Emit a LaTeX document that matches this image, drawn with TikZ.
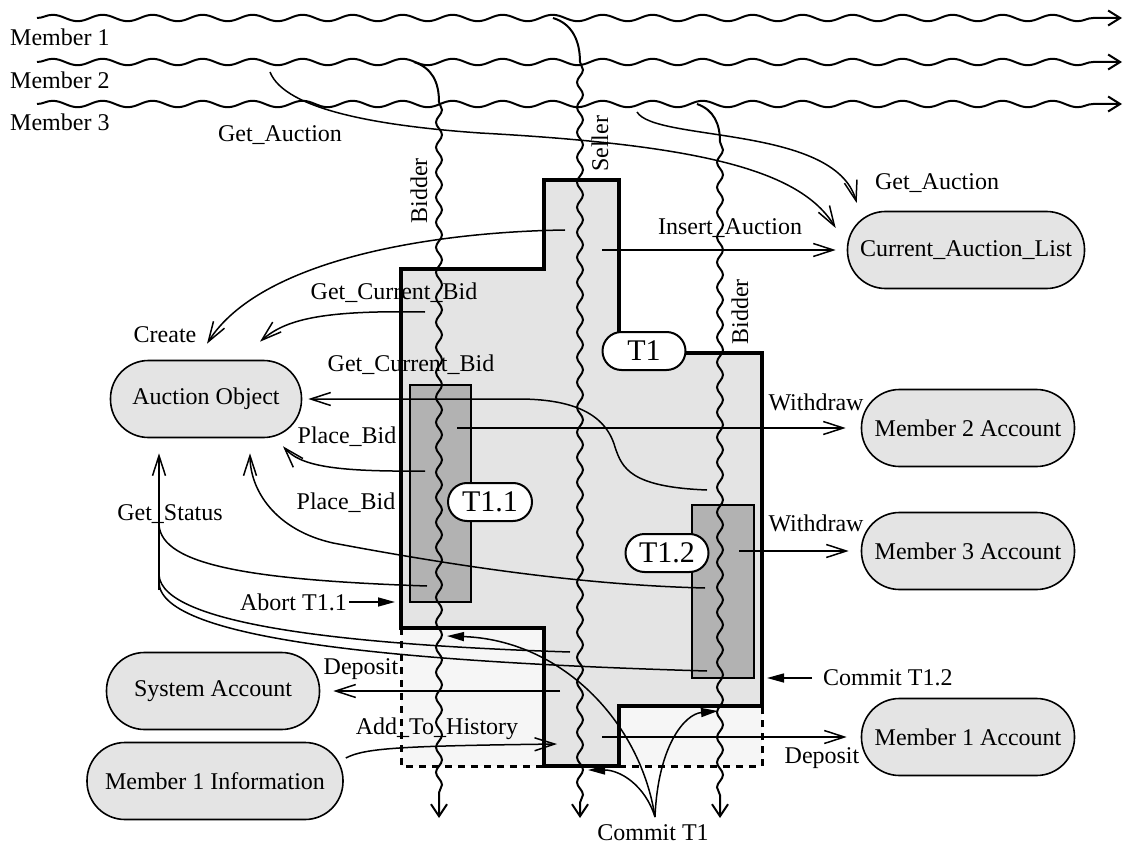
\documentclass[tikz,border=0pt]{standalone}
\usepackage{fontspec}
\setmainfont{Liberation Serif}
\usetikzlibrary{arrows.meta, decorations.pathmorphing, calc}

\definecolor{tgray}{gray}{0.895}
\definecolor{sgray}{gray}{0.70}
\definecolor{lgray}{gray}{0.965}

\begin{document}
\begin{tikzpicture}[
    x=1pt, y=-1pt,
    font=\fontsize{24}{28}\selectfont,
    obj/.style={rectangle, draw, line width=1.6pt, fill=tgray, rounded corners=38pt, minimum height=77pt, inner sep=0pt},
    tag/.style={rectangle, draw, line width=2pt, fill=white, rounded corners=19pt, minimum height=38pt, minimum width=84pt, inner sep=0pt, font=\fontsize{30}{34}\selectfont},
    lbl/.style={inner sep=2pt},
    line/.style={draw, line width=1.5pt, -{Straight Barb[length=20pt,width=13pt]}},
    fline/.style={draw, line width=1.5pt, -{Triangle[length=17pt,width=9pt]}},
    wire/.style={draw, line width=1.5pt},
    branch/.style={draw, line width=2pt},
    hthread/.style={draw, line width=2pt, decorate, decoration={snake, segment length=50pt, amplitude=3.2pt, post length=10pt}, -{Straight Barb[length=12pt,width=15pt]}},
    vthread/.style={draw, line width=2pt, decorate, decoration={snake, segment length=25pt, amplitude=3pt, post length=14pt}, -{Straight Barb[length=12pt,width=16pt]}},
    edge/.style={draw, line width=3.2pt},
    dashedge/.style={draw, line width=3pt, dash pattern=on 7pt off 6pt}
]
\useasboundingbox (0,0) rectangle (1130,845);

\fill[lgray] (401,628) rectangle (544,766);
\fill[lgray] (619,706) rectangle (762,766);
\path[edge, fill=tgray] (544,180) -- (619,180) -- (619,353) -- (762,353) -- (762,706) -- (619,706) -- (619,766) -- (544,766) -- (544,628) -- (401,628) -- (401,269) -- (544,269) -- cycle;
\path[dashedge] (401,628) -- (401,766) -- (544,766);
\path[dashedge] (619,766) -- (762,766) -- (762,706);
\draw[line width=1.8pt, fill=sgray] (410,385) rectangle (471,602);
\draw[line width=1.8pt, fill=sgray] (692,505) rectangle (754,678);

\coordinate (m1s) at (37,18);
\coordinate (m1e) at (1122,18);
\coordinate (m2s) at (37,62);
\coordinate (m2e) at (1122,62);
\coordinate (m3s) at (37,104);
\coordinate (m3e) at (1122,104);
\path[hthread] (m1s) -- (m1e);
\path[hthread] (m2s) -- (m2e);
\path[hthread] (m3s) -- (m3e);

\node[lbl, anchor=west] (m1) at (8,37) {Member 1};
\node[lbl, anchor=west] (m2) at (8,80) {Member 2};
\node[lbl, anchor=west] (m3) at (8,122) {Member 3};

\coordinate (b1a) at (414,62);
\coordinate (b1b) at (439,102);
\coordinate (b1e) at (439,818);
\coordinate (sla) at (553,18);
\coordinate (slb) at (580,62);
\coordinate (sle) at (580,818);
\coordinate (b2a) at (697,104);
\coordinate (b2b) at (720,142);
\coordinate (b2e) at (720,818);
\path[branch] (b1a) .. controls (432,68) and (439,82) .. (b1b);
\path[vthread] (b1b) -- (b1e);
\path[branch] (sla) .. controls (573,24) and (580,42) .. (slb);
\path[vthread] (slb) -- (sle);
\path[branch] (b2a) .. controls (714,110) and (720,124) .. (b2b);
\path[vthread] (b2b) -- (b2e);

\node[lbl, rotate=90] (bidder1) at (419,191) {Bidder};
\node[lbl, rotate=90] (seller) at (600,144) {Seller};
\node[lbl, rotate=90] (bidder2) at (740,312) {Bidder};

\node[obj, minimum width=237pt] (list) at (966,250) {Current\_Auction\_List};
\node[obj, minimum width=191pt] (auction) at (206,399) {Auction Object};
\node[obj, minimum width=213pt] (acc2) at (968,428) {Member 2 Account};
\node[obj, minimum width=213pt] (acc3) at (968,551) {Member 3 Account};
\node[obj, minimum width=213pt] (acc1) at (968,737) {Member 1 Account};
\node[obj, minimum width=213pt] (sysacc) at (213,691) {System Account};
\node[obj, minimum width=256pt] (info1) at (215,781) {Member 1 Information};

\coordinate (ga1) at (270,72);
\coordinate (ga2) at (637,112);
\coordinate (ins) at (602,250);
\coordinate (cr) at (565,230);
\coordinate (gcb1) at (425,312);
\coordinate (gcb2) at (707,490);
\coordinate (wd2) at (457,428);
\coordinate (wd3) at (739,551);
\coordinate (pb1) at (425,471);
\coordinate (pb2) at (705,588);
\coordinate (gs1) at (427,586);
\coordinate (gs2) at (570,652);
\coordinate (gs3) at (707,671);
\coordinate (gsj) at (159,590);
\coordinate (dep1) at (560,691);
\coordinate (dep2) at (602,737);
\coordinate (hist) at (557,744);
\coordinate (cmt) at (655,817);
\coordinate (cs) at (588,770);
\coordinate (cb1) at (447,636);
\coordinate (cb2) at (718,711);
\coordinate (ab) at (395,602);
\coordinate (cm12) at (767,678);

\path[line] (ga1) .. controls (285,110) and (380,126) .. (480,133) .. controls (700,145) and (800,170) .. ([shift={(-11,-22)}]list.west);
\path[line] (ga2) .. controls (655,142) and (835,125) .. ([shift={(10,-47)}]list.west);
\path[line, shorten >=11pt] (ins) -- (list.west);
\path[line] (cr) .. controls (430,232) and (260,260) .. ([shift={(1,-16)}]auction.north);
\path[line] (gcb1) .. controls (320,310) and (285,320) .. ([shift={(54,-18)}]auction.north);
\path[line, shorten >=6pt] (gcb2) .. controls (630,487) and (622,468) .. (615,447) .. controls (605,412) and (570,399) .. (518,399) -- (auction.east);
\path[line, shorten >=15pt] (wd2) -- (acc2.west);
\path[line, shorten >=12pt] (wd3) -- (acc3.west);
\path[line] (pb1) .. controls (330,472) and (300,465) .. ([shift={(77,8)}]auction.south);
\path[line] (pb2) .. controls (580,585) and (450,565) .. (333,543) .. controls (275,530) and (250,490) .. ([shift={(44,15)}]auction.south);
\path[wire] (gs1) .. controls (250,580) and (162,565) .. (159,525);
\path[wire] (gs2) .. controls (350,645) and (162,625) .. (159,575);
\path[wire] (gs3) .. controls (400,662) and (162,640) .. (159,583);
\path[line, shorten >=15pt] (gsj) -- (gsj |- auction.south);
\path[line, shorten >=13pt] (dep1) -- (sysacc.east);
\path[line] ([shift={(2,-23)}]info1.east) .. controls (365,748) and (400,746) .. (hist);
\path[line, shorten >=14pt] (dep2) -- (acc1.west);
\path[fline] (cmt) .. controls (645,785) and (620,770) .. (cs);
\path[fline] (cmt) .. controls (658,745) and (685,714) .. (cb2);
\path[fline] (cmt) .. controls (640,720) and (560,640) .. (cb1);

\node[lbl] (ga1l) at (280,135) {Get\_Auction};
\node[lbl] (ga2l) at (937,183) {Get\_Auction};
\node[lbl] (insl) at (730,228) {Insert\_Auction};
\node[lbl] (crl) at (165,335) {Create};
\node[lbl] (gcb1l) at (394,293) {Get\_Current\_Bid};
\node[lbl] (gcb2l) at (411,365) {Get\_Current\_Bid};
\node[lbl] (wd2l) at (816,402) {Withdraw};
\node[lbl] (wd3l) at (816,523) {Withdraw};
\node[lbl] (pb1l) at (347,437) {Place\_Bid};
\node[lbl] (pb2l) at (346,503) {Place\_Bid};
\node[lbl] (gsl) at (170,514) {Get\_Status};
\node[lbl] (dep1l) at (361,669) {Deposit};
\node[lbl] (histl) at (437,729) {Add\_To\_History};
\node[lbl] (dep2l) at (822,758) {Deposit};
\node[lbl] (commitl) at (653,833) {Commit T1};
\node[lbl, anchor=east] (abort) at (349,602) {Abort T1.1};
\node[lbl, anchor=west] (cmt12) at (821,678) {Commit T1.2};
\path[fline] (abort.east) -- (ab);
\path[fline, shorten <=9pt] (cmt12.west) -- (cm12);

\node[tag, minimum width=83pt] (t1) at (644,351) {T1};
\node[tag] (t11) at (490,502) {T1.1};
\node[tag, minimum width=83pt] (t12) at (667,553) {T1.2};

\end{tikzpicture}
\end{document}
